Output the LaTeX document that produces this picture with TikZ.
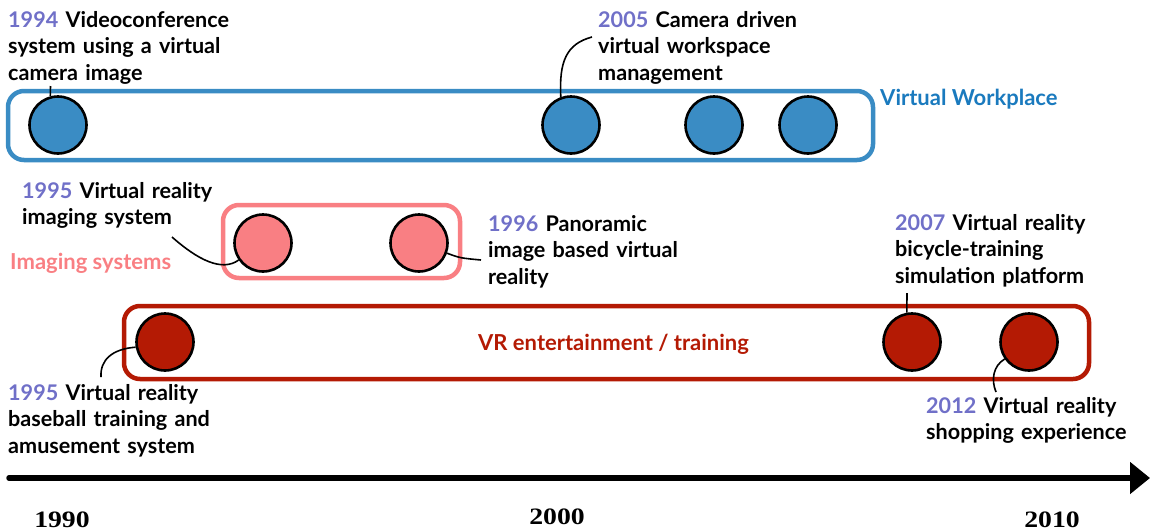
\documentclass[tikz,border=0pt]{standalone}
\usepackage{fontspec}
\usetikzlibrary{arrows.meta}
\newfontfamily\labfont{Lato}
\newfontfamily\yearfont{Liberation Serif}[FakeStretch=1.18]
\definecolor{wpblue}{RGB}{58,140,196}
\definecolor{wptext}{RGB}{26,122,190}
\definecolor{impink}{RGB}{249,127,131}
\definecolor{vrred}{RGB}{180,26,4}
\definecolor{yearc}{RGB}{112,112,200}
\newcommand{\yy}[1]{\textcolor{yearc}{#1}}
\tikzset{
  evt/.style={circle, draw=black, line width=2.6pt, minimum size=57pt, inner sep=0pt},
  grp/.style={rounded corners=16pt, line width=4.5pt},
  lab/.style={anchor=base west, inner sep=0pt, text width=330pt, align=left,
     font=\labfont\bfseries\fontsize{21.6}{26.7}\selectfont},
  gname/.style={anchor=base west, inner sep=0pt, font=\labfont\bfseries\fontsize{22}{24}\selectfont},
  link/.style={line width=1.6pt, black},
  yearlab/.style={anchor=base, inner sep=0pt, font=\yearfont\bfseries\fontsize{23.5}{26}\selectfont}
}
\begin{document}
\begin{tikzpicture}[x=1pt,y=-1pt]
\useasboundingbox (0,0) rectangle (1150,531);
% groups
\draw[grp, wpblue] (8,91) rectangle (873,160);
\draw[grp, impink] (223,205) rectangle (460,278);
\draw[grp, vrred] (124,306) rectangle (1089,379);
% circles
\node[evt, fill=wpblue] (c1) at (58,125) {};
\node[evt, fill=wpblue] (c2) at (571,125) {};
\node[evt, fill=wpblue] (c3) at (714,125) {};
\node[evt, fill=wpblue] (c4) at (808,125) {};
\node[evt, fill=impink] (p1) at (263,243) {};
\node[evt, fill=impink] (p2) at (419,243) {};
\node[evt, fill=vrred] (r1) at (165,342) {};
\node[evt, fill=vrred] (r2) at (912,342) {};
\node[evt, fill=vrred] (r3) at (1029,342) {};
% group names
\node[gname, text=wptext] (nwp) at (880,105) {Virtual Workplace};
\node[gname, text=impink] (nim) at (10,269) {Imaging systems};
\node[gname, text=vrred] (nvr) at (478,350) {VR entertainment / training};
% labels
\node[lab] (l1994) at (8,27) {\yy{1994} Videoconference\\system using a virtual\\camera image};
\node[lab] (l2005) at (598,27) {\yy{2005} Camera driven\\virtual workspace\\management};
\node[lab] (l1995a) at (22,198) {\yy{1995} Virtual reality\\imaging system};
\node[lab] (l1996) at (488,231) {\yy{1996} Panoramic\\image based virtual\\reality};
\node[lab] (l2007) at (895,230) {\yy{2007} Virtual reality\\bicycle-training\\simulation platform};
\node[lab] (l2012) at (926,413) {\yy{2012} Virtual reality\\shopping experience};
\node[lab] (l1995b) at (8,400) {\yy{1995} Virtual reality\\baseball training and\\amusement system};
% link anchors
\coordinate (k1994) at (50.5,86);
\coordinate (k2005) at (592,37);
\coordinate (k1995a) at (172,237);
\coordinate (k1996) at (481,260);
\coordinate (k2007) at (907,293);
\coordinate (k2012) at (996,392);
\coordinate (k1995b) at (101,377);
% links
\draw[link] (c1.105) -- (k1994);
\draw[link] (k2005) .. controls (566,44) and (559,62) .. (c2.110);
\draw[link] (k1995a) .. controls (198,260) and (222,272) .. (p1.215);
\draw[link] (p2.-20) .. controls (460,258) .. (k1996);
\draw[link] (r2.100) -- (k2007);
\draw[link] (r3.215) .. controls (993,366) and (991,380) .. (k2012);
\draw[link] (r1.190) .. controls (112,349) and (100,360) .. (k1995b);
% timeline
\coordinate (t0) at (9,478);
\coordinate (t1) at (1150,478);
\draw[line width=5.5pt, line cap=round, -{Triangle[length=20pt,width=31pt]}] (t0) -- (t1);
\node[yearlab] (y1990) at (62,527) {1990};
\node[yearlab] (y2000) at (557,524) {2000};
\node[yearlab] (y2010) at (1052,527) {2010};
\end{tikzpicture}
\end{document}
